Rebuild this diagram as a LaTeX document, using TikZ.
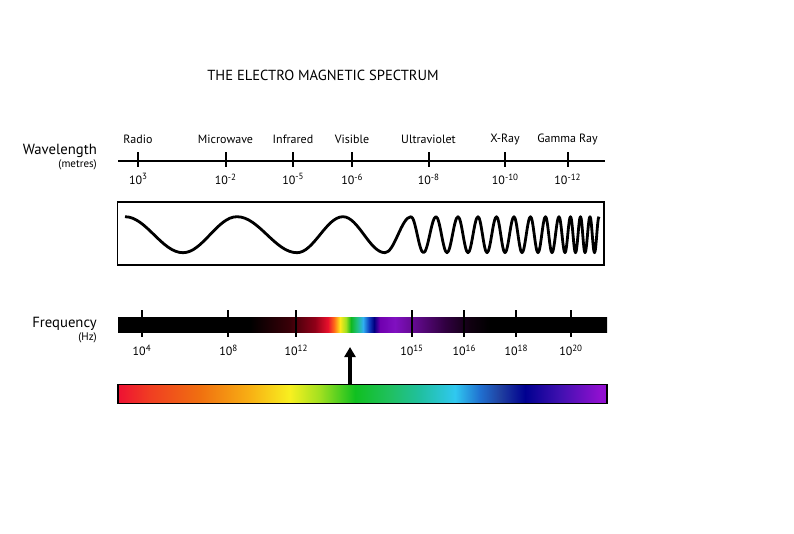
\documentclass[tikz,border=0pt]{standalone}
\usepackage{fontspec}
\setmainfont{PT Sans}
\usetikzlibrary{arrows.meta}
% frequency bar colours
\definecolor{fa}{HTML}{3A0008}
\definecolor{fb}{HTML}{900018}
\definecolor{fc}{HTML}{E8102C}
\definecolor{fd}{HTML}{FF6A1A}
\definecolor{fe}{HTML}{FFE81A}
\definecolor{ff}{HTML}{A0E020}
\definecolor{fg}{HTML}{10B820}
\definecolor{fh}{HTML}{20C080}
\definecolor{fi}{HTML}{30B0F0}
\definecolor{fj}{HTML}{1040C0}
\definecolor{fk}{HTML}{000080}
\definecolor{fl}{HTML}{7000B0}
\definecolor{fm}{HTML}{8010C0}
\definecolor{fn}{HTML}{5A0880}
\definecolor{fo}{HTML}{300040}
\definecolor{fp}{HTML}{100010}
% visible bar colours
\definecolor{va}{HTML}{EE1133}
\definecolor{vb}{HTML}{F03E22}
\definecolor{vc}{HTML}{F07010}
\definecolor{vd}{HTML}{F8B014}
\definecolor{ve}{HTML}{F8F020}
\definecolor{vf}{HTML}{A0E020}
\definecolor{vg}{HTML}{10C020}
\definecolor{vh}{HTML}{20C060}
\definecolor{vi}{HTML}{20C0A0}
\definecolor{vj}{HTML}{30C8F0}
\definecolor{vk}{HTML}{2070D0}
\definecolor{vl}{HTML}{2040A0}
\definecolor{vm}{HTML}{000090}
\definecolor{vn}{HTML}{4010B0}
\definecolor{vo}{HTML}{9010D0}
\pgfdeclarehorizontalshading{freqshade}{100bp}{color(0bp)=(black); color(25bp)=(black);
 color(38.50bp)=(black); color(42.59bp)=(fa); color(45.14bp)=(fb); color(46.47bp)=(fc);
 color(47.09bp)=(fd); color(47.70bp)=(fe); color(48.31bp)=(ff); color(48.82bp)=(fg);
 color(49.44bp)=(fh); color(50.05bp)=(fi); color(50.67bp)=(fj); color(51.18bp)=(fk);
 color(51.79bp)=(fl); color(53.32bp)=(fm); color(55.88bp)=(fn); color(58.44bp)=(fo);
 color(60.99bp)=(fp); color(63.04bp)=(black); color(75bp)=(black); color(100bp)=(black)}
\pgfdeclarehorizontalshading{visshade}{100bp}{color(0bp)=(va); color(25bp)=(va);
 color(28.27bp)=(vb); color(33.38bp)=(vc); color(38.50bp)=(vd); color(42.59bp)=(ve);
 color(45.65bp)=(vf); color(49.23bp)=(vg); color(52.81bp)=(vh); color(55.88bp)=(vi);
 color(59.46bp)=(vj); color(62.01bp)=(vk); color(64.06bp)=(vl); color(66.62bp)=(vm);
 color(70.19bp)=(vn); color(74.28bp)=(vo); color(75bp)=(vo); color(100bp)=(vo)}
\newcommand{\myexp}[1]{10\raisebox{4.2pt}{\fontsize{9}{9}\selectfont #1}}
\begin{document}
\begin{tikzpicture}[x=1pt,y=-1pt,
  lab/.style={font=\fontsize{12}{14}\selectfont, inner sep=0pt},
  val/.style={font=\fontsize{12}{14}\selectfont, inner sep=0pt},
  side/.style={anchor=east, inner sep=0pt, font=\fontsize{14.7}{16}\selectfont},
  unit/.style={anchor=east, inner sep=0pt, font=\fontsize{11}{12}\selectfont},
  tickmark/.style={line width=2pt},
  bar/.style={minimum width=489pt, inner sep=0pt}]
\useasboundingbox[fill=white] (0,0) rectangle (794,533);

\node[inner sep=0pt, font=\fontsize{14.6}{16}\selectfont] (title) at (323,75) {THE ELECTRO MAGNETIC SPECTRUM};

% wavelength axis
\node[side] (wl) at (97,151) {Wavelength};
\node[unit] (wlu) at (97,164.5) {(metres)};
\coordinate (wa) at (118,161);
\coordinate (wb) at (605,161);
\draw[line width=1.5pt] (wa) -- (wb);
\foreach \x/\n/\v [count=\i] in {138/Radio/3, 225.5/Microwave/-2, 293/Infrared/-5, 352/Visible/-6,
  428.5/Ultraviolet/-8, 505/X-Ray/-10, 567.5/Gamma Ray/-12} {
  \draw[tickmark] (\x,152) -- (\x,167);
  \node[lab] (band\i) at (\x,139) {\n};
  \node[val] (wv\i) at (\x,179) {\myexp{\v}};
}

% wave box
\node[draw, line width=1.5pt, minimum width=486.5pt, minimum height=63pt, inner sep=0pt] (wavebox) at (360.75,233.5) {};
\draw[line width=2.8pt, line join=round] (125,216.7)
  foreach \x [remember=\x as \px (initially 125), count=\i] in
  {183,237,297,343,385,411,423.5,436,447,458,468,478,487,496.5,505,514,522,530.5,538,545.5,552,559,565,570.5,575.5,580.5,585,590,594.5,599}
  { cos ({(\px+\x)/2},234.7) sin (\x,{234.7+18*(1-2*mod(\i+1,2))}) };

% frequency bar
\node[side] (fq) at (97,324) {Frequency};
\node[unit] (fqu) at (97,338) {(Hz)};
\node[bar, shade, shading=freqshade, minimum height=15.5pt] (fbar) at (362.5,325) {};
\foreach \x/\v [count=\i] in {141.7/4, 228.3/8, 296/12, 411.7/15, 464/16, 516/18, 570.7/20} {
  \draw[tickmark] (\x,310) -- (\x,337);
  \node[val] (fv\i) at (\x,350) {\myexp{\v}};
}

% visible spectrum bar
\node[bar, shade, shading=visshade, draw, line width=1.2pt, minimum height=19pt] (vbar) at (362.5,393.8) {};
\coordinate (tip) at (350,347);
\draw[line width=3.5pt, -{Triangle[width=11pt,length=10pt]}] (vbar.north -| tip) -- (tip);
\end{tikzpicture}
\end{document}
